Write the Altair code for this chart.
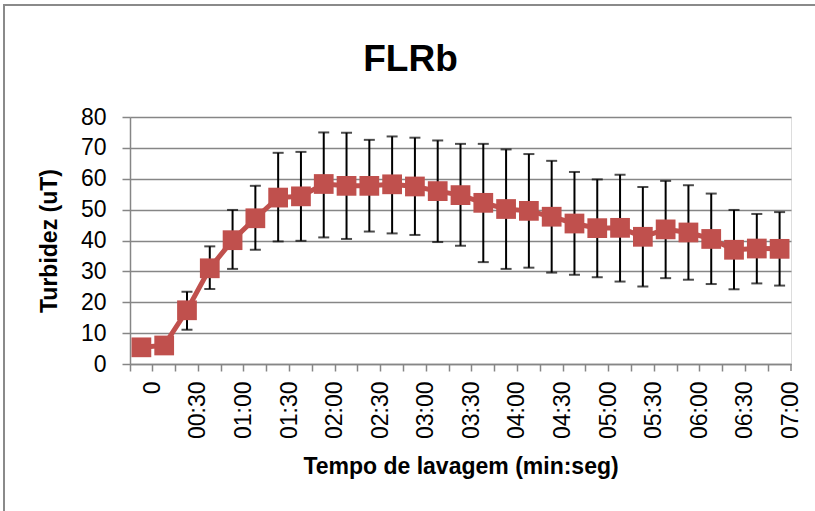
import altair as alt
import pandas as pd

categories = ["0", "00:15", "00:30", "00:45", "01:00", "01:15", "01:30", "01:45",
              "02:00", "02:15", "02:30", "02:45", "03:00", "03:15", "03:30", "03:45",
              "04:00", "04:15", "04:30", "04:45", "05:00", "05:15", "05:30", "05:45",
              "06:00", "06:15", "06:30", "06:45", "07:00"]
turbidez = [5.4, 6.0, 17.4, 31.0, 40.1, 47.2, 53.9, 54.3, 58.3, 57.7, 57.7, 58.2, 57.5,
            56.0, 54.7, 52.2, 50.2, 49.6, 47.7, 45.5, 44.0, 44.1, 41.2, 43.6, 42.6, 40.5,
            37.0, 37.4, 37.3]
erro_sup = [6.5, 7.2, 23.4, 38.1, 49.9, 57.7, 68.4, 68.7, 75.0, 74.9, 72.6, 73.7, 73.3,
            72.4, 71.3, 71.3, 69.5, 68.0, 65.8, 62.2, 59.8, 61.3, 57.3, 59.3, 57.9, 55.2,
            49.9, 48.6, 49.2]
erro_inf = [4.0, 5.0, 11.1, 24.3, 30.8, 37.0, 39.7, 39.9, 41.0, 40.5, 42.9, 42.3, 41.8,
            39.5, 38.3, 33.0, 30.8, 31.2, 29.6, 28.9, 28.1, 26.7, 25.1, 27.8, 27.3, 25.9,
            24.2, 26.1, 25.4]
y_ticks = [0, 10, 20, 30, 40, 50, 60, 70, 80]

df = pd.DataFrame({"tempo": categories, "turbidez": turbidez,
                   "sup": erro_sup, "inf": erro_inf})

W, H = 661, 247
GRID = "#868686"
RED = "#C0504D"
FONT = "Liberation Sans"
BAND = W / len(categories)

x_axis = alt.Axis(
    title="Tempo de lavagem (min:seg)",
    labelAngle=-90, bandPosition=0, labelOffset=BAND / 2,
    labelExpr="(slice(datum.value, 3) == '15' || slice(datum.value, 3) == '45') ? '' : datum.label",
    labelOverlap=False, labelFont=FONT, labelFontSize=23, labelColor="black",
    labelPadding=10, ticks=True, tickSize=7, tickColor=GRID, tickWidth=1.5,
    domainColor=GRID, domainWidth=1.5, grid=False,
    titleFont=FONT, titleFontSize=23, titleFontWeight="bold", titleColor="black",
    titleX=W / 2, titleY=109, titleAlign="center", titleBaseline="alphabetic",
)
y_axis = alt.Axis(
    title="Turbidez (uT)", values=y_ticks,
    labelFont=FONT, labelFontSize=23, labelColor="black", labelPadding=16,
    tickSize=8, tickColor=GRID, tickWidth=1.5, domainColor=GRID, domainWidth=1.5,
    grid=True, gridColor=GRID, gridWidth=1.5,
    titleFont=FONT, titleFontSize=23, titleFontWeight="bold", titleColor="black",
    titleX=-74, titleY=H / 2, titleAngle=-90, titleAlign="center", titleBaseline="alphabetic",
)

x_enc = alt.X("tempo:N", sort=categories,
              scale=alt.Scale(paddingInner=0, paddingOuter=0), axis=x_axis)
y_scale = alt.Scale(domain=[0, 80], nice=False)

base = alt.Chart(df)

bars = base.mark_rule(color="black", strokeWidth=2).encode(
    x=x_enc, y=alt.Y("inf:Q", scale=y_scale, axis=y_axis), y2="sup:Q")
cap_top = base.mark_tick(color="black", size=11, thickness=2).encode(
    x=x_enc, y=alt.Y("sup:Q", scale=y_scale, axis=y_axis))
cap_bot = base.mark_tick(color="black", size=11, thickness=2).encode(
    x=x_enc, y=alt.Y("inf:Q", scale=y_scale, axis=y_axis))
line = base.mark_line(color=RED, strokeWidth=5).encode(
    x=x_enc, y=alt.Y("turbidez:Q", scale=y_scale, axis=y_axis))
points = base.mark_point(shape="square", filled=True, size=390, color=RED, opacity=1).encode(
    x=x_enc, y=alt.Y("turbidez:Q", scale=y_scale, axis=y_axis))

one = pd.DataFrame({"k": [0]})
frame_left = alt.Chart(one).mark_rule(color="#8a8a8a", strokeWidth=2).encode(
    x=alt.value(-126), y=alt.value(-112), y2=alt.value(400))
frame_top = alt.Chart(one).mark_rule(color="#8a8a8a", strokeWidth=2).encode(
    x=alt.value(-127), x2=alt.value(700), y=alt.value(-112))
end_tick = alt.Chart(one).mark_rule(color=GRID, strokeWidth=1.5).encode(
    x=alt.value(W), y=alt.value(H), y2=alt.value(H + 7))

chart = alt.layer(bars, cap_top, cap_bot, line, points,
                  frame_left, frame_top, end_tick).properties(
    width=W, height=H,
    title=alt.TitleParams(text="FLRb", anchor="middle", dx=-50, dy=104,
                          font=FONT, fontSize=37, fontWeight="bold", color="black",
                          baseline="alphabetic", offset=0),
    autosize="none",
    padding={"left": 130, "top": 117, "right": 24, "bottom": 147},
).configure_view(strokeWidth=0).configure(background="white")

chart.save("out.html", embed_options={"renderer": "svg", "actions": False})
